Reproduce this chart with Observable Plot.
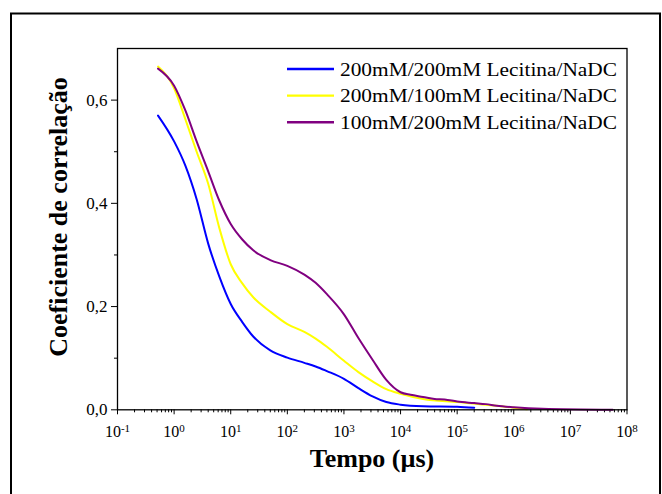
<!DOCTYPE html>
<html>
<head>
<meta charset="utf-8">
<script src="https://cdn.jsdelivr.net/npm/d3@7"></script>
<script src="https://cdn.jsdelivr.net/npm/@observablehq/plot@0.6"></script>
<style>
  html, body { margin: 0; padding: 0; background: #fff; }
  #chart { position: relative; width: 662px; height: 494px; overflow: hidden; }
  #chart svg text { font-family: 'Liberation Serif', 'Times New Roman', serif; }
</style>
</head>
<body>
<div id="chart"></div>
<script>
// ---- data ----
const seriesNames = ["200mM/200mM Lecitina/NaDC", "200mM/100mM Lecitina/NaDC", "100mM/200mM Lecitina/NaDC"];
const seriesColors = ["#0000ff", "#ffff00", "#800080"];

const time200_200 = [0.52, 1, 1.58, 2.5, 4, 6.3, 10, 16, 25, 50, 100, 200, 316, 500, 1000, 1800, 3200, 5600, 1e4, 2.5e4, 1e5, 2e5];
const corr200_200 = [0.570, 0.520, 0.473, 0.408, 0.322, 0.258, 0.205, 0.170, 0.142, 0.115, 0.101, 0.091, 0.084, 0.075, 0.060, 0.042, 0.026, 0.015, 0.010, 0.007, 0.006, 0.004];

const time200_100 = [0.52, 1, 1.58, 2.5, 4, 6.3, 10, 16, 25, 50, 100, 200, 316, 500, 1000, 1800, 3200, 5600, 1e4, 2.5e4, 1e5, 3.2e5, 1e6, 1.7e6];
const corr200_100 = [0.665, 0.623, 0.563, 0.500, 0.438, 0.352, 0.282, 0.245, 0.218, 0.190, 0.166, 0.151, 0.138, 0.122, 0.095, 0.073, 0.055, 0.040, 0.031, 0.021, 0.015, 0.010, 0.004, 0.001];

const time100_200 = [0.52, 1, 1.58, 2.5, 4, 6.3, 10, 16, 25, 50, 100, 200, 316, 500, 1000, 1800, 3200, 5600, 1e4, 1.5e4, 2.5e4, 4e4, 6e4, 1e5, 2e5, 3.2e5, 5e5, 1e6, 3.2e6, 5.6e7];
const corr100_200 = [0.661, 0.628, 0.580, 0.520, 0.462, 0.405, 0.360, 0.330, 0.309, 0.290, 0.279, 0.262, 0.246, 0.224, 0.185, 0.139, 0.097, 0.058, 0.034, 0.029, 0.025, 0.021, 0.020, 0.016, 0.013, 0.011, 0.008, 0.005, 0.002, 0.000];

const yTicks = [0, 0.2, 0.4, 0.6];
const yMinorTicks = [0.1, 0.3, 0.5];
const xDecades = [-1, 0, 1, 2, 3, 4, 5, 6, 7, 8];

const xLabel = "Tempo (µs)";
const yLabel = "Coeficiente de correlação";

// ---- build tables ----
const times = [time200_200, time200_100, time100_200];
const corrs = [corr200_200, corr200_100, corr100_200];
const data = [];
times.forEach((ts, i) => ts.forEach((t, j) => data.push({series: seriesNames[i], t, v: corrs[i][j]})));

const xMajor = xDecades.map(e => Math.pow(10, e));
const xMinor = [];
xDecades.slice(0, -1).forEach(e => { for (let k = 2; k <= 9; k++) xMinor.push(k * Math.pow(10, e)); });

const W = 662, H = 494;
const chart = Plot.plot({
  width: W,
  height: H,
  marginLeft: 117,
  marginRight: 35.5,
  marginTop: 48,
  marginBottom: 84.7,
  style: {fontFamily: "'Liberation Serif', 'Times New Roman', serif", fontSize: "17px", color: "#000", background: "#fff"},
  x: {type: "log", domain: [0.1, 1e8]},
  y: {domain: [0, 0.7]},
  color: {domain: seriesNames, range: seriesColors},
  marks: [
    Plot.axisY({ticks: yTicks, tickSize: 6, tickPadding: 4, fontSize: 17, label: null,
      tickFormat: d => d.toFixed(1).replace(".", ","), stroke: "#000"}),
    Plot.axisY({ticks: yMinorTicks, tickSize: 3, tickFormat: () => "", label: null, stroke: "#000"}),
    Plot.axisX({ticks: xMajor, tickSize: 5, tickPadding: 11, fontSize: 16, label: null,
      tickFormat: d => "10^" + Math.round(Math.log10(d)), stroke: "#000"}),
    Plot.axisX({ticks: xMinor, tickSize: 3, tickFormat: () => "", label: null, stroke: "#000"}),
    Plot.line(data, {x: "t", y: "v", z: "series", stroke: "series", strokeWidth: 2, curve: "monotone-x"}),
    Plot.frame({stroke: "#000", strokeWidth: 1.3})
  ]
});

document.getElementById("chart").appendChild(chart);
const svg = d3.select(chart);

// superscript exponents on the x tick labels
svg.selectAll("text").each(function() {
  const m = /^10\^(-?\d+)$/.exec(this.textContent);
  if (!m) return;
  const el = d3.select(this);
  el.selectAll("*").remove();
  el.text(null);
  el.append("tspan").text("10");
  el.append("tspan").attr("dy", "-5").attr("font-size", "11").text(m[1]);
});

// outer border
svg.append("rect").attr("x", 11).attr("y", 13.5).attr("width", 649).attr("height", 520)
  .attr("fill", "none").attr("stroke", "#000").attr("stroke-width", 2);

// axis titles
svg.append("text").attr("x", 372).attr("y", 467).attr("text-anchor", "middle")
  .attr("font-size", 26).attr("font-weight", "bold").attr("fill", "#000").text(xLabel);
svg.append("text").attr("transform", "translate(67,217) rotate(-90)").attr("text-anchor", "middle")
  .attr("font-size", 26).attr("font-weight", "bold").attr("fill", "#000").text(yLabel);

// legend
const lg = svg.append("g").attr("text-anchor", "start");
seriesNames.forEach((name, i) => {
  const y = 69 + 26.6 * i;
  lg.append("line").attr("x1", 287).attr("x2", 334).attr("y1", y).attr("y2", y)
    .attr("stroke", seriesColors[i]).attr("stroke-width", 2.4);
  lg.append("text").attr("x", 340).attr("y", y + 6.5).attr("font-size", 19).attr("text-anchor", "start")
    .attr("textLength", 277).attr("lengthAdjust", "spacingAndGlyphs").attr("fill", "#000").text(name);
});
</script>
</body>
</html>
